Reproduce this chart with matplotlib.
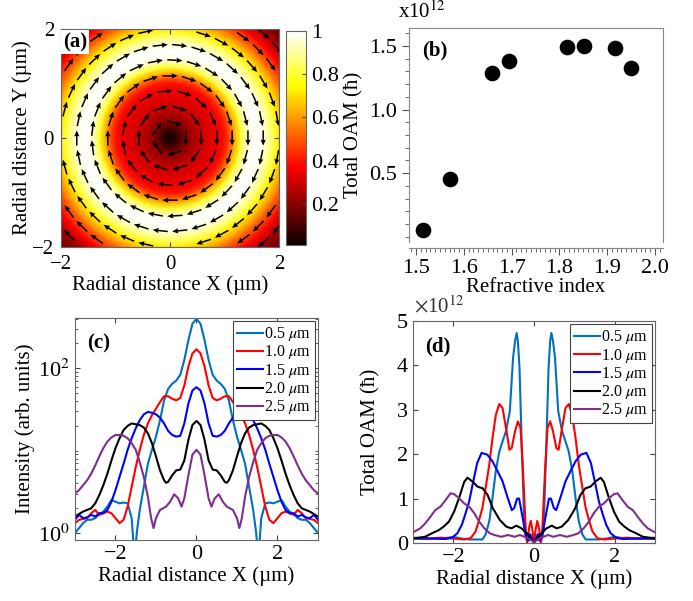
import numpy as np
import matplotlib.pyplot as plt
from matplotlib.ticker import FixedLocator, MultipleLocator, NullFormatter

plt.rcParams['font.family'] = ['Liberation Serif', 'DejaVu Serif']
plt.rcParams['mathtext.fontset'] = 'stix'
plt.rcParams['font.size'] = 15

# ---- (a) normalised intensity of the vortex, radial profile (um) ----
prof_r = [0.0, 0.1, 0.2, 0.3, 0.5, 0.7, 0.9, 1.0, 1.1, 1.2, 1.3, 1.4, 1.5,
          1.6, 1.7, 1.8, 1.9, 2.0, 2.2, 2.4, 2.6, 2.9]
prof_I = [0.01, 0.06, 0.14, 0.2, 0.28, 0.32, 0.36, 0.4, 0.5, 0.65, 0.8, 0.93,
          0.99, 1.0, 0.97, 0.9, 0.82, 0.72, 0.54, 0.38, 0.24, 0.1]
# rings of the momentum-density arrows
ring_r = [0.29, 0.57, 0.86, 1.14, 1.43, 1.71, 2.0, 2.29, 2.57]
ring_n = [5, 10, 15, 20, 25, 30, 35, 40, 45]
arrow_len = 0.28

# ---- (b) total OAM vs refractive index ----
n_index = [1.515, 1.571, 1.658, 1.695, 1.815, 1.851, 1.916, 1.951]
oam_total = [0.055, 0.455, 1.29, 1.38, 1.49, 1.50, 1.48, 1.325]

# ---- (c) intensity line cuts, log10 values, x >= 0 half (profiles symmetric) ----
xc_05 = [0, 0.1, 0.2, 0.3, 0.4, 0.5, 0.6, 0.7, 0.8, 0.9, 1.0, 1.1, 1.2, 1.3, 1.4,
         1.47, 1.53, 1.6, 1.7, 1.8, 1.9, 2.0, 2.1, 2.2, 2.3, 2.4, 2.5, 2.6, 2.7,
         2.8, 2.9, 3.0]
lc_05 = [2.60, 2.54, 2.34, 2.10, 1.92, 1.85, 1.81, 1.75, 1.61, 1.37, 1.17, 1.01,
         0.84, 0.56, 0.28, 0.02, -0.3, 0.18, 0.36, 0.37, 0.36, 0.38, 0.40, 0.32,
         0.26, 0.23, 0.18, 0.16, 0.16, 0.12, 0.06, 0.0]
xc_10 = [0, 0.1, 0.2, 0.3, 0.4, 0.5, 0.6, 0.7, 0.8, 0.9, 1.0, 1.1, 1.2, 1.3, 1.4,
         1.5, 1.6, 1.7, 1.8, 1.9, 2.0, 2.1, 2.2, 2.3, 2.4, 2.5, 2.6, 2.7, 2.8,
         2.9, 3.0]
lc_10 = [2.23, 2.18, 2.02, 1.79, 1.64, 1.61, 1.63, 1.66, 1.66, 1.59, 1.51, 1.43,
         1.33, 1.19, 1.01, 0.80, 0.56, 0.32, 0.16, 0.12, 0.18, 0.24, 0.26, 0.24,
         0.22, 0.28, 0.24, 0.18, 0.17, 0.16, 0.12]
xc_15 = xc_10
lc_15 = [1.77, 1.73, 1.57, 1.33, 1.18, 1.17, 1.19, 1.24, 1.33, 1.40, 1.44, 1.46,
         1.47, 1.44, 1.37, 1.27, 1.15, 1.01, 0.84, 0.68, 0.52, 0.38, 0.28, 0.24,
         0.24, 0.20, 0.22, 0.19, 0.18, 0.22, 0.16]
xc_20 = [0, 0.1, 0.2, 0.3, 0.4, 0.5, 0.6, 0.7, 0.75, 0.8, 0.9, 1.0, 1.1, 1.2, 1.3,
         1.4, 1.5, 1.6, 1.7, 1.8, 1.9, 2.0, 2.1, 2.2, 2.3, 2.4, 2.5, 2.6, 2.7,
         2.8, 2.9, 3.0]
lc_20 = [1.36, 1.31, 1.13, 0.88, 0.77, 0.76, 0.70, 0.62, 0.61, 0.64, 0.76, 0.93,
         1.09, 1.21, 1.28, 1.31, 1.32, 1.33, 1.30, 1.25, 1.15, 1.03, 0.88, 0.72,
         0.58, 0.46, 0.36, 0.30, 0.28, 0.26, 0.23, 0.20]
xc_25 = [0, 0.1, 0.2, 0.3, 0.37, 0.45, 0.55, 0.65, 0.75, 0.9, 1.0, 1.06, 1.12,
         1.2, 1.3, 1.4, 1.5, 1.6, 1.7, 1.8, 1.9, 2.0, 2.1, 2.2, 2.3, 2.4, 2.5,
         2.6, 2.7, 2.8, 2.9, 3.0]
lc_25 = [1.01, 0.95, 0.70, 0.42, 0.32, 0.42, 0.47, 0.38, 0.32, 0.28, 0.18, 0.06,
         0.18, 0.44, 0.68, 0.86, 1.01, 1.09, 1.15, 1.18, 1.19, 1.19, 1.16, 1.11,
         1.03, 0.93, 0.82, 0.72, 0.64, 0.58, 0.52, 0.48]

# ---- (d) total OAM line cuts, units of 1e12 hbar, x >= 0 half ----
xd_05 = [0, 0.05, 0.08, 0.13, 0.18, 0.235, 0.30, 0.36, 0.40, 0.43, 0.47, 0.52,
         0.60, 0.695, 0.78, 0.86, 0.95, 1.03, 1.11, 1.20, 1.28, 1.4, 1.6, 1.8,
         2.0, 2.2, 2.5, 2.8, 3.0]
vd_05 = [0.0, 0.12, 0.18, 0.05, 0.08, 0.26, 2.06, 3.94, 4.55, 4.73, 4.55, 4.17,
         2.97, 2.52, 2.29, 2.06, 1.61, 1.01, 0.49, 0.19, 0.08, 0.08, 0.08, 0.10,
         0.14, 0.11, 0.10, 0.10, 0.10]
xd_10 = [0, 0.04, 0.08, 0.12, 0.17, 0.2, 0.276, 0.335, 0.40, 0.47, 0.553, 0.61,
         0.695, 0.78, 0.863, 0.946, 1.03, 1.11, 1.20, 1.28, 1.37, 1.45, 1.57,
         1.74, 2.0, 2.3, 2.6, 3.0]
vd_10 = [0.0, 0.3, 0.5, 0.35, 0.0, 0.2, 1.69, 2.59, 2.74, 2.52, 2.14, 2.10, 2.59,
         3.04, 3.13, 2.89, 2.36, 1.76, 1.24, 0.79, 0.49, 0.26, 0.11, 0.08, 0.10,
         0.12, 0.10, 0.12]
xd_15 = [0, 0.05, 0.1, 0.15, 0.2, 0.28, 0.37, 0.42, 0.49, 0.55, 0.65, 0.78, 0.9,
         1.03, 1.16, 1.3, 1.41, 1.52, 1.61, 1.71, 1.79, 1.90, 2.03, 2.2, 2.5,
         2.8, 3.0]
vd_15 = [0.0, 0.1, 0.2, 0.06, 0.15, 0.56, 1.0, 1.0, 0.79, 0.74, 1.01, 1.39, 1.61,
         1.84, 1.99, 2.03, 1.80, 1.33, 0.93, 0.63, 0.41, 0.22, 0.12, 0.09, 0.10,
         0.10, 0.10]
xd_20 = [0, 0.1, 0.18, 0.31, 0.44, 0.56, 0.69, 0.85, 1.02, 1.15, 1.27, 1.40,
         1.52, 1.65, 1.73, 1.86, 1.98, 2.11, 2.24, 2.36, 2.53, 2.70, 2.86, 3.0]
vd_20 = [0.02, 0.12, 0.22, 0.33, 0.39, 0.33, 0.37, 0.52, 0.78, 1.08, 1.23, 1.27,
         1.38, 1.47, 1.38, 1.01, 0.71, 0.48, 0.37, 0.29, 0.22, 0.14, 0.12, 0.10]
xd_25 = [0, 0.1, 0.18, 0.35, 0.48, 0.645, 0.81, 0.98, 1.1, 1.23, 1.36, 1.48,
         1.61, 1.73, 1.86, 1.98, 2.07, 2.19, 2.32, 2.45, 2.57, 2.70, 2.82, 3.0]
vd_25 = [0.02, 0.08, 0.12, 0.18, 0.14, 0.18, 0.14, 0.18, 0.22, 0.33, 0.48, 0.67,
         0.82, 0.89, 1.01, 1.10, 1.12, 0.97, 0.82, 0.74, 0.59, 0.44, 0.33, 0.24]

labels = ['0.5 $\\mu$m', '1.0 $\\mu$m', '1.5 $\\mu$m', '2.0 $\\mu$m', '2.5 $\\mu$m']
colors = ['#0072BD', '#FF0000', '#0000FF', '#000000', '#7E2F8E']


def mirror(x, y):
    x = np.asarray(x, float)
    y = np.asarray(y, float)
    return np.concatenate([-x[:0:-1], x]), np.concatenate([y[:0:-1], y])


def style_box(ax, size=16):
    for s in ax.spines.values():
        s.set_color('#666666')
    ax.tick_params(which='both', direction='in', top=True, right=True,
                   colors='#444444', labelcolor='black', labelsize=size)


def add_legend(ax):
    leg = ax.legend(loc='upper right', fontsize=11.5, handlelength=1.6,
                    handletextpad=0.1, labelspacing=0.02, borderpad=0.25,
                    borderaxespad=0.2, fancybox=False, framealpha=1)
    leg.get_frame().set_edgecolor('#444444')
    leg.get_frame().set_linewidth(0.8)


fig = plt.figure(figsize=(6.93, 6.01), dpi=100)

# ---------------- (a) ----------------
ax_a = fig.add_axes([0.0880, 0.5890, 0.3146, 0.3627])
theta = np.linspace(0, 2 * np.pi, 241)
R, T = np.meshgrid(prof_r, theta)
C = np.tile(prof_I, (len(theta), 1))
mesh = ax_a.pcolormesh(R * np.cos(T), R * np.sin(T), C, shading='gouraud',
                       cmap='hot', vmin=0.01, vmax=1)
qx, qy, qu, qv = [], [], [], []
for r, n in zip(ring_r, ring_n):
    for t in np.linspace(0, 2 * np.pi, n, endpoint=False):
        px, py = r * np.cos(t), r * np.sin(t)
        if abs(px) > 1.97 or abs(py) > 1.97:
            continue
        qx.append(px)
        qy.append(py)
        # clockwise circulation
        qu.append(arrow_len * np.sin(t))
        qv.append(-arrow_len * np.cos(t))
qx, qy = np.array(qx), np.array(qy)
qu, qv = np.array(qu), np.array(qv)
ax_a.quiver(qx - qu / 2, qy - qv / 2, qu, qv, angles='xy', scale_units='xy',
            scale=1, color='black', width=0.007, headwidth=3.5, headlength=4,
            headaxislength=3.6)
ax_a.set_xlim(-2, 2)
ax_a.set_ylim(-2, 2)
ax_a.set_xticks([-2, 0, 2])
ax_a.set_yticks([-2, 0, 2])
ax_a.set_xlabel('Radial distance X (µm)', fontsize=15, labelpad=1)
ax_a.set_ylabel('Radial distance Y (µm)', fontsize=15, labelpad=0)
style_box(ax_a, 15)
ax_a.tick_params(axis='x', pad=6)
ax_a.tick_params(axis='y', pad=5)
ax_a.text(0.01, 0.985, '(a)', transform=ax_a.transAxes, fontsize=15,
          fontweight='bold', va='top', ha='left',
          bbox=dict(facecolor='white', edgecolor='none', pad=1.5))

cax = fig.add_axes([0.4127, 0.5923, 0.0289, 0.3561])
cb = fig.colorbar(mesh, cax=cax, ticks=[0.2, 0.4, 0.6, 0.8, 1])
cb.ax.set_yticklabels(['0.2', '0.4', '0.6', '0.8', '1'])
cb.outline.set_edgecolor('#666666')
cb.ax.tick_params(direction='in', length=3, colors='#444444',
                  labelcolor='black', labelsize=16)

# ---------------- (b) ----------------
ax_b = fig.add_axes([0.5902, 0.5973, 0.3665, 0.3561])
ax_b.scatter(n_index, oam_total, s=105, color='black', zorder=3)
ax_b.set_xlim(1.485, 2.017)
ax_b.set_ylim(-0.04, 1.64)
ax_b.xaxis.set_major_locator(FixedLocator([1.5, 1.6, 1.7, 1.8, 1.9, 2.0]))
ax_b.xaxis.set_minor_locator(MultipleLocator(0.01))
ax_b.yaxis.set_major_locator(FixedLocator([0.5, 1.0, 1.5]))
ax_b.yaxis.set_minor_locator(MultipleLocator(0.1))
ax_b.set_xticklabels(['1.5', '1.6', '1.7', '1.8', '1.9', '2.0'])
ax_b.set_yticklabels(['0.5', '1.0', '1.5'])
for s in ax_b.spines.values():
    s.set_color('#888888')
ax_b.tick_params(which='both', direction='out', colors='#555555',
                 labelcolor='black', labelsize=16)
ax_b.tick_params(which='major', length=5)
ax_b.tick_params(which='minor', length=3)
ax_b.spines['bottom'].set_position(('outward', 4))
ax_b.set_xlabel('Refractive index', fontsize=15, labelpad=0)
ax_b.set_ylabel('Total OAM (ħ)', fontsize=15, labelpad=4)
ax_b.text(0.05, 0.94, '(b)', transform=ax_b.transAxes, fontsize=15,
          fontweight='bold', va='top', ha='left')
fig.text(0.574, 0.962, 'x10$^{12}$', fontsize=15, ha='left', va='bottom')

# ---------------- (c) ----------------
ax_c = fig.add_axes([0.1082, 0.1015, 0.3506, 0.3694])
for (xs, ls), lab, col in zip([(xc_05, lc_05), (xc_10, lc_10), (xc_15, lc_15),
                               (xc_20, lc_20), (xc_25, lc_25)], labels, colors):
    xf, lf = mirror(xs, ls)
    ax_c.plot(xf, 10 ** lf, color=col, lw=1.5, label=lab)
ax_c.set_yscale('log')
ax_c.set_xlim(-3, 3)
ax_c.set_ylim(10 ** -0.085, 10 ** 2.61)
ax_c.set_xticks([-2, 0, 2])
ax_c.yaxis.set_major_locator(FixedLocator([1, 100]))
ax_c.yaxis.set_minor_locator(FixedLocator(
    [m * 10 ** e for e in range(0, 3) for m in range(1, 10) if m * 10 ** e not in (1, 100)]))
ax_c.yaxis.set_minor_formatter(NullFormatter())
ax_c.set_yticklabels(['10$^0$', '10$^2$'])
style_box(ax_c)
ax_c.set_xlabel('Radial distance X (µm)', fontsize=15, labelpad=2)
ax_c.set_ylabel('Intensity (arb. units)', fontsize=15, labelpad=2)
ax_c.text(0.05, 0.93, '(c)', transform=ax_c.transAxes, fontsize=15,
          fontweight='bold', va='top', ha='left')
add_legend(ax_c)

# ---------------- (d) ----------------
ax_d = fig.add_axes([0.5960, 0.0965, 0.3492, 0.3694])
for (xs, vs), lab, col in zip([(xd_05, vd_05), (xd_10, vd_10), (xd_15, vd_15),
                               (xd_20, vd_20), (xd_25, vd_25)], labels, colors):
    xf, vf = mirror(xs, vs)
    ax_d.plot(xf, vf, color=col, lw=1.5, label=lab)
ax_d.set_xlim(-3, 3)
ax_d.set_ylim(0, 5)
ax_d.set_xticks([-2, 0, 2])
ax_d.set_yticks([0, 1, 2, 3, 4, 5])
style_box(ax_d)
ax_d.set_xlabel('Radial distance X (µm)', fontsize=15, labelpad=2)
ax_d.set_ylabel('Total OAM (ħ)', fontsize=15, labelpad=12)
ax_d.text(0.05, 0.93, '(d)', transform=ax_d.transAxes, fontsize=15,
          fontweight='bold', va='top', ha='left')
fig.text(0.598, 0.472, '$\\times$10$^{12}$', fontsize=15, ha='left',
         va='bottom', color='#333333')
add_legend(ax_d)

fig.savefig('out.png', dpi=100)
